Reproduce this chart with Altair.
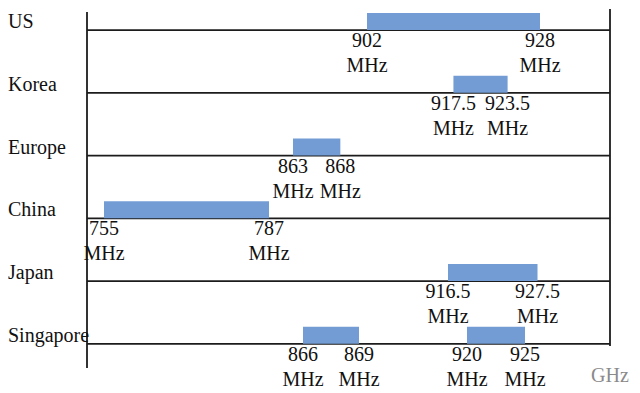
import altair as alt
import pandas as pd

# ---- data ----
regions = ["US", "Korea", "Europe", "China", "Japan", "Singapore"]

band_region = ["US", "Korea", "Europe", "China", "Japan", "Singapore", "Singapore"]
band_low = [902, 917.5, 863, 755, 916.5, 866, 920]
band_high = [928, 923.5, 868, 787, 927.5, 869, 925]

unit = "MHz"
axis_unit = "GHz"

# schematic (non-proportional) frequency axis: piecewise-linear breakpoints
freq_breaks = [752, 755, 787, 863, 866, 869, 902, 916.5, 920, 925, 928, 940]
freq_pixels = [0, 17, 182, 206, 216, 272, 280, 361, 380, 438, 453, 523]

# ---- tables ----
row_of = {r: i for i, r in enumerate(regions)}
bands = pd.DataFrame({"region": band_region, "low": band_low, "high": band_high})
bands["row"] = bands["region"].map(row_of)

lab_rows = []
for reg, lo, hi in zip(band_region, band_low, band_high):
    for f in (lo, hi):
        lab_rows.append({"row": row_of[reg], "freq": f, "text": f"{f:g}\n{unit}"})
labels = pd.DataFrame(lab_rows)

rows_df = pd.DataFrame({"region": regions, "row": list(range(len(regions)))})
one = pd.DataFrame({"k": [0]})

W, H = 523, 358
FONT = "Liberation Serif"

xs = alt.Scale(domain=freq_breaks, range=freq_pixels, nice=False, zero=False)
ys = alt.Scale(domain=[-0.2885, 5.417], reverse=True, nice=False, zero=False)

lines = alt.Chart(rows_df).mark_rule(color="#1c1c1c", strokeWidth=1.8).encode(
    y=alt.Y("row:Q", scale=ys, axis=None),
    x=alt.value(0),
    x2=alt.value(W),
)

left_border = alt.Chart(one).mark_rule(color="#1c1c1c", strokeWidth=1.8).encode(
    x=alt.value(0), y=alt.value(0), y2=alt.value(356)
)
right_border = alt.Chart(one).mark_rule(color="#1c1c1c", strokeWidth=1.8).encode(
    x=alt.value(W), y=alt.value(-3), y2=alt.value(334)
)

bars = (
    alt.Chart(bands)
    .transform_calculate(top="datum.row - 0.271")
    .mark_bar(color="#739CD4")
    .encode(
        x=alt.X("low:Q", scale=xs, axis=None),
        x2="high:Q",
        y=alt.Y("row:Q", scale=ys, axis=None),
        y2="top:Q",
    )
)

region_text = alt.Chart(rows_df).mark_text(
    align="left", baseline="alphabetic", dy=-2, fontSize=20, font=FONT, color="#111111"
).encode(
    x=alt.value(-79),
    y=alt.Y("row:Q", scale=ys, axis=None),
    text="region:N",
)

freq_text = alt.Chart(labels).mark_text(
    align="center", baseline="top", lineBreak="\n", lineHeight=25,
    fontSize=20, font=FONT, color="#111111", dy=1
).encode(
    x=alt.X("freq:Q", scale=xs, axis=None),
    y=alt.Y("row:Q", scale=ys, axis=None),
    text="text:N",
)

unit_text = alt.Chart(one).mark_text(
    align="left", baseline="alphabetic", fontSize=20, font=FONT, color="#8a8a8a"
).encode(x=alt.value(504), y=alt.value(370), text=alt.value(axis_unit))

chart = (
    alt.layer(lines, left_border, right_border, bars, region_text, freq_text, unit_text)
    .properties(
        width=W,
        height=H,
        autosize=alt.AutoSizeParams(type="none"),
        padding={"left": 79, "top": 4, "right": 22, "bottom": 23},
    )
    .configure_view(stroke=None)
)

chart.save("out.html", embed_options={"renderer": "svg", "actions": False})
